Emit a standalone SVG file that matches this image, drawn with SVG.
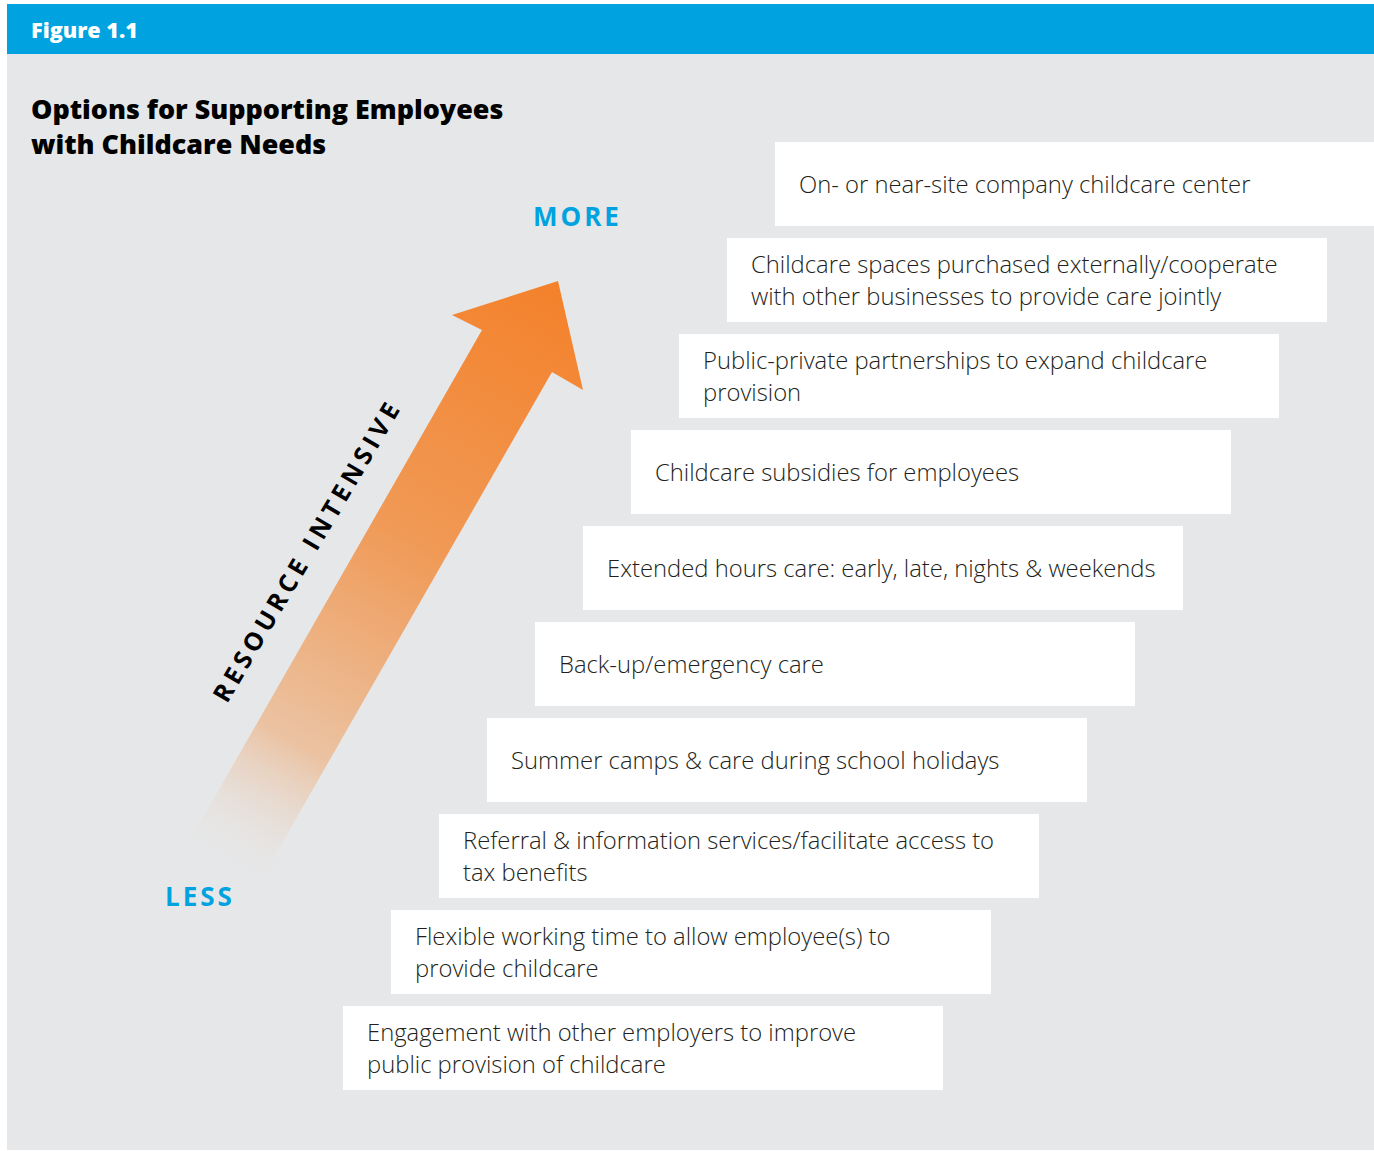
<svg xmlns="http://www.w3.org/2000/svg" width="1374" height="1151" viewBox="0 0 1374 1151">
<defs>
<style>
.box{fill:#ffffff}
.lbl{font-family:"Open Sans","Noto Sans",sans-serif;font-size:23.8px;font-weight:300;fill:#231F20}
.end{font-family:"Open Sans","Noto Sans",sans-serif;font-size:26px;font-weight:700;fill:#00A3E0;letter-spacing:3px}
</style>
<linearGradient id="ag" gradientUnits="userSpaceOnUse" x1="558" y1="281" x2="228" y2="860">
<stop offset="0" stop-color="#F4812A"/>
<stop offset="0.45" stop-color="#F09A57"/>
<stop offset="0.8" stop-color="#EBC3A3"/>
<stop offset="1" stop-color="#E6E0DC" stop-opacity="0"/>
</linearGradient>
</defs>
<rect x="0" y="0" width="1374" height="1151" fill="#ffffff"/>
<rect x="7" y="54" width="1367" height="1096" fill="#E6E7E8"/>
<rect x="7" y="4" width="1367" height="50" fill="#00A3E0"/>
<text x="31" y="38" font-family="'Open Sans','Noto Sans',sans-serif" font-size="21.6" font-weight="800" fill="#ffffff">Figure 1.1</text>
<text font-family="'Open Sans','Noto Sans',sans-serif" font-size="26.9" font-weight="800" fill="#000000"><tspan x="31" y="119">Options for Supporting Employees</tspan><tspan x="31" y="154">with Childcare Needs</tspan></text>
<g id="arrow">
<polygon points="558,281 583,390 552,372 262,878 193,835 482,330 452,315" fill="url(#ag)"/>
<text transform="translate(315,555) rotate(-59.5)" text-anchor="middle" font-family="'Open Sans','Noto Sans',sans-serif" font-size="25" font-weight="700" fill="#000000" letter-spacing="4.5">RESOURCE INTENSIVE</text>
</g>
<text class="end" x="533" y="226">MORE</text>
<text class="end" x="165" y="906">LESS</text>
<g id="n1"><rect class="box" x="775" y="142" width="600" height="84"/><text class="lbl" x="799" y="193">On- or near-site company childcare center</text></g>
<g id="n2"><rect class="box" x="727" y="238" width="600" height="84"/><text class="lbl"><tspan x="751" y="273">Childcare spaces purchased externally/cooperate</tspan><tspan x="751" y="305">with other businesses to provide care jointly</tspan></text></g>
<g id="n3"><rect class="box" x="679" y="334" width="600" height="84"/><text class="lbl"><tspan x="703" y="369">Public-private partnerships to expand childcare</tspan><tspan x="703" y="401">provision</tspan></text></g>
<g id="n4"><rect class="box" x="631" y="430" width="600" height="84"/><text class="lbl" x="655" y="481">Childcare subsidies for employees</text></g>
<g id="n5"><rect class="box" x="583" y="526" width="600" height="84"/><text class="lbl" x="607" y="577">Extended hours care: early, late, nights &amp; weekends</text></g>
<g id="n6"><rect class="box" x="535" y="622" width="600" height="84"/><text class="lbl" x="559" y="673">Back-up/emergency care</text></g>
<g id="n7"><rect class="box" x="487" y="718" width="600" height="84"/><text class="lbl" x="511" y="769">Summer camps &amp; care during school holidays</text></g>
<g id="n8"><rect class="box" x="439" y="814" width="600" height="84"/><text class="lbl"><tspan x="463" y="849">Referral &amp; information services/facilitate access to</tspan><tspan x="463" y="881">tax benefits</tspan></text></g>
<g id="n9"><rect class="box" x="391" y="910" width="600" height="84"/><text class="lbl"><tspan x="415" y="945">Flexible working time to allow employee(s) to</tspan><tspan x="415" y="977">provide childcare</tspan></text></g>
<g id="n10"><rect class="box" x="343" y="1006" width="600" height="84"/><text class="lbl"><tspan x="367" y="1041">Engagement with other employers to improve</tspan><tspan x="367" y="1073">public provision of childcare</tspan></text></g>
<g id="connectors"></g>
</svg>
